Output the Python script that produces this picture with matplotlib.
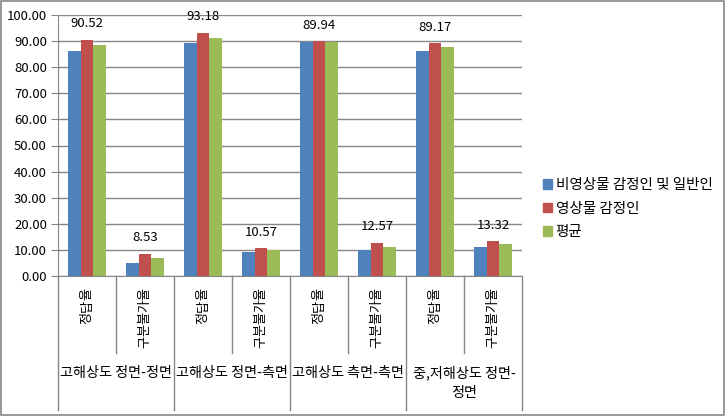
import matplotlib
matplotlib.use("Agg")
import matplotlib.pyplot as plt
import matplotlib.transforms as mtransforms
from matplotlib.patches import Patch, Rectangle
import numpy as np

plt.rcParams['font.family'] = ['Noto Sans CJK KR', 'DejaVu Sans']

groups = ["고해상도 정면-정면", "고해상도 정면-측면", "고해상도 측면-측면", "중,저해상도 정면-\n정면"]
subcats = ["정답율", "구분불가율"]
series_names = ["비영상물 감정인 및 일반인", "영상물 감정인", "평균"]
series_blue = [86.2, 5.1, 89.4, 9.3, 89.6, 10.1, 86.2, 11.2]
series_red = [90.52, 8.53, 93.18, 10.57, 89.94, 12.57, 89.17, 13.32]
series_green = [88.4, 6.8, 91.2, 10.1, 89.8, 11.2, 87.8, 12.4]
yticks = [0, 10, 20, 30, 40, 50, 60, 70, 80, 90, 100]

colors = ["#4F81BD", "#C0504D", "#9BBB59"]
W, H = 725, 416
fig = plt.figure(figsize=(W / 100, H / 100), dpi=100)
ax = fig.add_axes([58 / W, 1 - 276 / H, (522 - 58) / W, (276 - 15) / H])

n = len(series_red)
x = np.arange(n)
bw = 0.22
for i, (vals, c) in enumerate(zip([series_blue, series_red, series_green], colors)):
    ax.bar(x + (i - 1) * bw, vals, width=bw, color=c, zorder=3)

for xi, v in zip(x, series_red):
    ax.annotate(f"{v:.2f}", (xi, v), xytext=(0, 7), textcoords="offset points",
                ha="center", va="bottom", fontsize=9.5, color="#000000")

ax.set_xlim(-0.5, n - 0.5)
ax.set_ylim(0, 100)
ax.set_yticks(yticks)
ax.set_yticklabels([f"{t:.2f}" for t in yticks], fontsize=9.5)
ax.yaxis.grid(True, color="#868686", linewidth=1, zorder=0)
ax.set_axisbelow(True)
for s in ["top", "right"]:
    ax.spines[s].set_visible(False)
ax.spines["left"].set_color("#868686")
ax.spines["bottom"].set_color("#868686")
ax.tick_params(axis="y", length=5, color="#868686", pad=3)
ax.set_xticks([])

trans = mtransforms.blended_transform_factory(ax.transData, fig.transFigure)
y_axis = 1 - 276 / H
# dividers
for k in range(n + 1):
    xb = k - 0.5
    if k % 2 == 0:
        yb = 1 - 410 / H
    else:
        yb = 1 - 353 / H
    ax.plot([xb, xb], [y_axis, yb], transform=trans, color="#868686", lw=1, clip_on=False)

# rotated sub-category labels, characters spaced like the original
step = 12.0
for xi in x:
    label = subcats[xi % 2]
    L = len(label)
    for ci, ch in enumerate(label):
        yc = 288 + step * (L - 1 - ci) + step / 2
        ax.text(xi, 1 - yc / H, ch, transform=trans, rotation=90,
                ha="center", va="center", fontsize=9.5)

for g, name in enumerate(groups):
    ax.text(2 * g + 0.5, 1 - 366 / H, name, transform=trans, ha="center", va="top",
            fontsize=10.2, linespacing=1.5)

handles = [Patch(facecolor=c, edgecolor=c) for c in colors]
fig.legend(handles, series_names, loc="upper left", bbox_to_anchor=(530 / W, 1 - 165 / H),
           frameon=False, fontsize=10.5, handlelength=0.6, handleheight=0.6,
           handletextpad=0.25, labelspacing=0.65)

fig.patches.append(Rectangle((0.001, 0.002), 0.997, 0.995, transform=fig.transFigure,
                             fill=False, edgecolor="#868686", lw=1.2))

fig.savefig("out.png", dpi=100)
